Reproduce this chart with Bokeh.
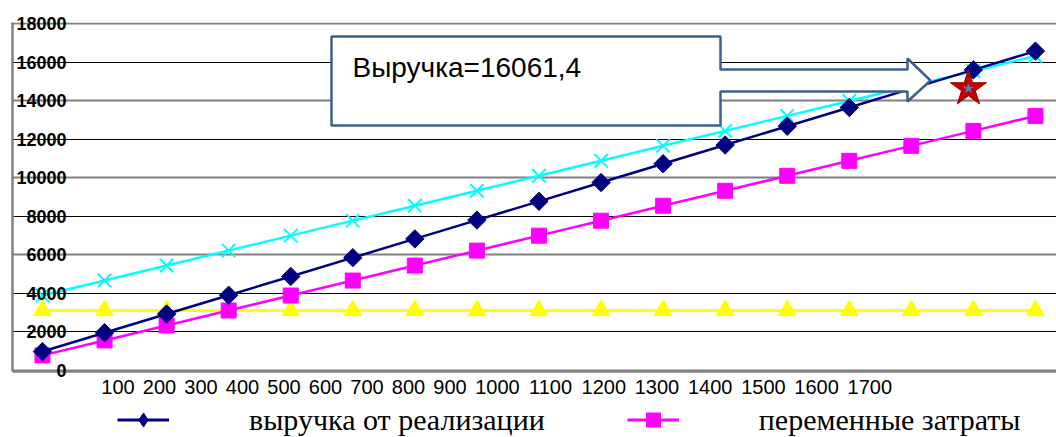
import math
from bokeh.plotting import figure
from bokeh.layouts import column
from bokeh.models import Range1d, Legend, LegendItem, Label, FixedTicker, Grid
from bokeh.embed import file_html
from bokeh.resources import INLINE

# ---- data ----
volumes = [100, 200, 300, 400, 500, 600, 700, 800, 900, 1000, 1100, 1200, 1300, 1400, 1500, 1600, 1700]
revenue = [975, 1950, 2925, 3900, 4875, 5850, 6825, 7800, 8775, 9750, 10725, 11700, 12675, 13650, 14625, 15600, 16575]
variable_costs = [777, 1554, 2331, 3108, 3885, 4662, 5439, 6216, 6993, 7770, 8547, 9324, 10101, 10878, 11655, 12432, 13209]
fixed_costs = [3110] * 17
total_costs = [3887, 4664, 5441, 6218, 6995, 7772, 8549, 9326, 10103, 10880, 11657, 12434, 13211, 13988, 14765, 15542, 16319]
star_x = [1592]
star_y = [14630]
y_ticks = [0, 2000, 4000, 6000, 8000, 10000, 12000, 14000, 16000, 18000]
tick_labels = [str(v) for v in volumes]
callout_text = "Выручка=16061,4"
legend_labels = ["выручка от реализации", "переменные затраты"]

W = 1056
H1, H2 = 402, 35
FL, FT, FB = 12, 22, 371          # frame left / top / bottom in page pixels
X0, X1 = 51.66, 1733.9
Y0, Y1 = -60, 18060
p = figure(width=W, height=H1, output_backend="svg", toolbar_location=None,
           x_range=Range1d(X0, X1), y_range=Range1d(Y0, Y1),
           min_border_left=FL, min_border_right=0, min_border_top=FT, min_border_bottom=H1 - FB)
p.outline_line_color = None
p.background_fill_color = "white"
p.border_fill_color = "white"

# pixel helpers (page pixels -> data), for the annotation layout only
def px2x(px):
    return X0 + (px - FL) * (X1 - X0) / (W - FL)

def px2y(py):
    return Y0 + (FB - py) * (Y1 - Y0) / (FB - FT)

# y axis with labels drawn over the plot area
p.yaxis.ticker = FixedTicker(ticks=y_ticks)
p.yaxis.axis_line_color = "#808080"
p.yaxis.axis_line_width = 2.5
p.yaxis.major_tick_out = 0
p.yaxis.major_tick_in = 0
p.yaxis.minor_tick_out = 0
p.yaxis.minor_tick_in = 0
p.yaxis.major_label_standoff = -54
p.yaxis.major_label_text_font = "Liberation Sans"
p.yaxis.major_label_text_font_style = "bold"
p.yaxis.major_label_text_font_size = "18px"
p.yaxis.major_label_text_color = "black"

# x axis: the category labels are typeset as one left-packed line
digit_w, space_w, start_px = 11.7, 6.4, 100
tick_pos = []
cur = start_px
for t in tick_labels:
    w = len(t) * digit_w
    tick_pos.append(px2x(cur + w / 2))
    cur += w + space_w
p.xaxis.ticker = FixedTicker(ticks=tick_pos)
p.xaxis.major_label_overrides = {tp: lab for tp, lab in zip(tick_pos, tick_labels)}
p.xaxis.axis_line_color = "#808080"
p.xaxis.axis_line_width = 2.5
p.xaxis.major_tick_out = 0
p.xaxis.major_tick_in = 0
p.xaxis.minor_tick_out = 0
p.xaxis.minor_tick_in = 0
p.xaxis.major_label_standoff = 8
p.xaxis.major_label_text_font = "Liberation Sans"
p.xaxis.major_label_text_font_size = "20px"
p.xaxis.major_label_text_color = "black"

p.xgrid.visible = False
p.ygrid.visible = False
g1 = Grid(dimension=1, ticker=FixedTicker(ticks=[2000, 4000, 8000, 12000, 16000]), grid_line_color="black", grid_line_width=1)
g2 = Grid(dimension=1, ticker=FixedTicker(ticks=[0, 6000, 10000, 14000, 18000]), grid_line_color="#808080", grid_line_width=2)
p.add_layout(g1)
p.add_layout(g2)

# series
p.line(volumes, fixed_costs, line_color="#FFFF00", line_width=3)
p.scatter(volumes, fixed_costs, marker="triangle", size=18, fill_color="#FFFF00", line_color="#FFFF00")
p.line(volumes, total_costs, line_color="#00FFFF", line_width=2.5)
p.scatter(volumes, total_costs, marker="x", size=19, line_color="#00FFFF", line_width=2)
p.line(volumes, variable_costs, line_color="#FF00FF", line_width=2.5)
p.scatter(volumes, variable_costs, marker="square", size=15, fill_color="#FF00FF", line_color="#FF00FF")
p.line(volumes, revenue, line_color="#000080", line_width=2.5)
p.scatter(volumes, revenue, marker="square", angle=math.pi / 4, size=13, fill_color="#000080", line_color="#000080")

# break-even star
p.scatter(star_x, star_y, marker="star", size=38, fill_color="#C00000", line_color="#A00000")
p.scatter(star_x, star_y, marker="star", size=9, fill_color="#4F81BD", line_color="#4F81BD")

# callout box with arrow
poly_px = [(331, 36), (720, 36), (720, 69), (907, 69), (907, 58), (930, 80), (907, 101),
           (907, 91), (720, 91), (720, 125), (331, 125)]
p.patch([px2x(a) for a, b in poly_px], [px2y(b) for a, b in poly_px],
        fill_color="white", line_color="#3F5F8C", line_width=2.5)
p.add_layout(Label(x=px2x(352), y=px2y(67), text=callout_text, text_font="Liberation Sans",
                   text_font_size="28px", text_color="black", text_baseline="middle", text_align="left"))

# legend strip below the chart (its sample glyphs lie outside the strip's view)
q = figure(width=W, height=H2, output_backend="svg", toolbar_location=None,
           x_range=Range1d(0, 1), y_range=Range1d(0, 1), min_border=0)
q.axis.visible = False
q.grid.visible = False
q.outline_line_color = None
q.background_fill_color = "white"
q.border_fill_color = "white"
off = [-5, -4]
k_rev_l = q.line(off, off, line_color="#000080", line_width=3)
k_rev_m = q.scatter(off, off, marker="diamond", size=13, fill_color="#000080", line_color="#000080")
k_var_l = q.line(off, off, line_color="#FF00FF", line_width=3)
k_var_m = q.scatter(off, off, marker="square", size=14, fill_color="#FF00FF", line_color="#FF00FF")
legend = Legend(items=[LegendItem(label=legend_labels[0], renderers=[k_rev_l, k_rev_m]),
                       LegendItem(label=legend_labels[1], renderers=[k_var_l, k_var_m])],
                location=(105, 0), orientation="horizontal",
                glyph_width=52, glyph_height=35, label_standoff=80, spacing=82,
                padding=0, margin=0, border_line_alpha=0, background_fill_alpha=0,
                label_text_font="Liberation Serif", label_text_font_size="30px",
                label_text_color="black")
q.add_layout(legend)

layout = column(p, q, spacing=0)
open("out.html", "w").write(file_html(layout, INLINE))
